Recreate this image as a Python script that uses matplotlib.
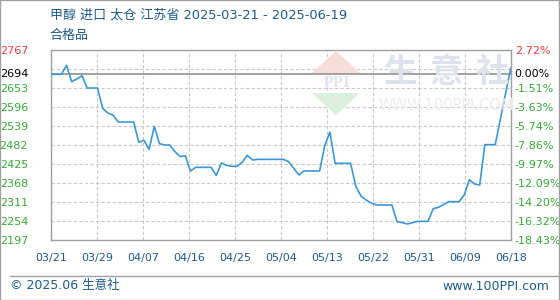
import matplotlib
matplotlib.use('Agg')
import matplotlib.pyplot as plt
import matplotlib.dates as mdates
import numpy as np
import pandas as pd
from matplotlib.patches import Polygon, Rectangle
from matplotlib.lines import Line2D

# ---------------- data ----------------
dates = ['2025-03-21', '2025-03-23', '2025-03-24', '2025-03-25', '2025-03-26', '2025-03-27',
         '2025-03-28', '2025-03-30', '2025-03-31', '2025-04-01', '2025-04-02', '2025-04-03',
         '2025-04-06', '2025-04-07', '2025-04-08', '2025-04-09', '2025-04-10', '2025-04-11',
         '2025-04-12', '2025-04-13', '2025-04-14', '2025-04-15', '2025-04-16', '2025-04-17',
         '2025-04-18', '2025-04-21', '2025-04-22', '2025-04-23', '2025-04-24', '2025-04-25',
         '2025-04-26', '2025-04-27', '2025-04-28', '2025-04-29', '2025-04-30', '2025-05-05',
         '2025-05-06', '2025-05-08', '2025-05-09', '2025-05-12', '2025-05-13', '2025-05-14',
         '2025-05-15', '2025-05-18', '2025-05-19', '2025-05-20', '2025-05-21', '2025-05-22',
         '2025-05-23', '2025-05-26', '2025-05-27', '2025-05-28', '2025-05-29', '2025-05-30',
         '2025-05-31', '2025-06-02', '2025-06-03', '2025-06-04', '2025-06-06', '2025-06-08',
         '2025-06-09', '2025-06-10', '2025-06-11', '2025-06-12', '2025-06-13', '2025-06-15',
         '2025-06-18']
prices = [2694, 2694, 2721, 2672, 2680, 2690,
          2653, 2653, 2592, 2578, 2572, 2551,
          2551, 2490, 2496, 2469, 2538, 2486,
          2482, 2482, 2462, 2447, 2450, 2404,
          2415, 2415, 2391, 2428, 2421, 2418,
          2418, 2430, 2451, 2437, 2439, 2439,
          2432, 2392, 2404, 2404, 2480, 2521,
          2427, 2427, 2359, 2329, 2317, 2308,
          2302, 2302, 2252, 2249, 2245, 2249,
          2253, 2253, 2291, 2295, 2312, 2312,
          2332, 2378, 2365, 2362, 2483, 2483,
          2712]

ref_price = 2694
y_ticks = [2197, 2254, 2311, 2368, 2425, 2482, 2539, 2596, 2653, 2710, 2767]
left_labels = ['2197', '2254', '2311', '2368', '2425', '2482', '2539', '2596', '2653', '', '2767']
right_labels = ['-18.43%', '-16.32%', '-14.20%', '-12.09%', '-9.97%', '-7.86%',
                '-5.74%', '-3.63%', '-1.51%', '', '2.72%']
ref_left_label = '2694'
ref_right_label = '0.00%'
x_labels = ['03/21', '03/29', '04/07', '04/16', '04/25', '05/04',
            '05/13', '05/22', '05/31', '06/09', '06/18']
x_start, x_end = '2025-03-21', '2025-06-18'

title = '甲醇 进口 太仓 江苏省 2025-03-21 - 2025-06-19'
subtitle = '合格品'
footer_left = '© 2025.06 生意社'
footer_right = 'www.100PPI.com'
watermark_chars = ['生', '意', '社']
watermark_url = 'WWW.100PPI.COM'

# ---------------- style ----------------
FONT = ['DejaVu Sans', 'Noto Sans CJK SC']
plt.rcParams['font.family'] = FONT
W, H = 560, 300
BLUE_TXT = '#1d5b8c'
RED = '#f03c3c'
GREEN = '#33aa33'
LINE = '#3d97d6'

fig = plt.figure(figsize=(W / 100, H / 100), dpi=100)
fig.patch.set_facecolor('white')

def fx(px):
    return px / W

def fy(py):
    return 1 - py / H

ax_l, ax_r, ax_t, ax_b = 51, 510.7, 50, 240
ax = fig.add_axes([fx(ax_l), fy(ax_b), fx(ax_r - ax_l), (ax_b - ax_t) / H])
ax.set_facecolor('none')

# watermark (behind data)
wm_col = '#dde2ec'
for ch, cx in zip(watermark_chars, [401, 446, 492]):
    fig.text(fx(cx), fy(72.5), ch, fontsize=24, color=wm_col, ha='center', va='center',
             family=['Noto Sans CJK SC'], fontweight='bold', zorder=0)
fig.text(fx(446.5), fy(106), watermark_url, fontsize=10.5, color='#ececec', ha='center',
         va='center', zorder=0)
fig.patches.append(Polygon([[fx(312), fy(73)], [fx(360), fy(73)], [fx(336), fy(51)]],
                           closed=True, transform=fig.transFigure, facecolor='#f8dcd8',
                           edgecolor='none', zorder=0))
fig.patches.append(Polygon([[fx(312), fy(93)], [fx(360), fy(93)], [fx(336), fy(115)]],
                           closed=True, transform=fig.transFigure, facecolor='#dcefdc',
                           edgecolor='none', zorder=0))
fig.text(fx(336), fy(83), 'PPI', fontsize=10, color='#e2e6ee', ha='center', va='center',
         family=['DejaVu Serif'], fontweight='bold', zorder=0)

x = pd.to_datetime(dates)
xs = mdates.date2num(pd.to_datetime(x_start))
xe = mdates.date2num(pd.to_datetime(x_end))

ax.axhline(ref_price, color='#9a9a9a', lw=1.3, zorder=2)
ax.plot(x, prices, color=LINE, lw=1.2, zorder=3)

ax.set_xlim(xs, xe)
ax.set_ylim(y_ticks[0], y_ticks[-1])
ax.set_yticks(y_ticks)
ax.set_yticklabels(left_labels)
ax.set_xticks(np.linspace(xs, xe, len(x_labels)))
ax.set_xticklabels(x_labels)

ax.grid(True, linestyle=(0, (3, 2)), color='#c8c8c8', lw=0.8, zorder=1)
for s in ax.spines.values():
    s.set_color('#a0a0a0')
    s.set_linewidth(1.0)

ax.tick_params(axis='y', length=0, pad=16.5, labelsize=8)
ax.tick_params(axis='x', length=0, pad=9.5, labelsize=8, labelcolor=BLUE_TXT)
for lab in ax.get_yticklabels():
    lab.set_color(RED if lab.get_text() == '2767' else GREEN)

ax.text(-16.5 / 72 * 100 / (ax_r - ax_l), ref_price, ref_left_label, transform=ax.get_yaxis_transform(),
        ha='right', va='center', fontsize=8, color='black')

ax2 = ax.twinx()
ax2.set_ylim(ax.get_ylim())
ax2.set_yticks(y_ticks)
ax2.set_yticklabels(right_labels)
ax2.tick_params(axis='y', length=0, pad=3, labelsize=8)
for s in ax2.spines.values():
    s.set_visible(False)
for lab in ax2.get_yticklabels():
    lab.set_color(RED if lab.get_text().startswith('2.') else GREEN)
ax2.text(1 + 4 / (ax_r - ax_l), ref_price, ref_right_label, transform=ax2.get_yaxis_transform(),
         ha='left', va='center', fontsize=8, color='black')

# titles
fig.text(fx(50), fy(15), title, fontsize=9.4, color=BLUE_TXT, ha='left', va='center')
fig.text(fx(50), fy(35), subtitle, fontsize=9.4, color=BLUE_TXT, ha='left', va='center')

# footer
fig.add_artist(Line2D([fx(10), fx(560)], [fy(275.5), fy(275.5)], color='#a0a0a0', lw=1.0,
                      transform=fig.transFigure))
fig.text(fx(10), fy(286), footer_left, fontsize=9, color=BLUE_TXT, ha='left', va='center')
fig.text(fx(549), fy(286), footer_right, fontsize=9, color=BLUE_TXT, ha='right', va='center')

# outer border
fig.patches.append(Rectangle((0.0008, 0.0015), 0.998, 0.997, transform=fig.transFigure,
                             fill=False, edgecolor='#a0a0a0', lw=1.0, zorder=10))

fig.savefig('out.png', dpi=100, facecolor='white')
